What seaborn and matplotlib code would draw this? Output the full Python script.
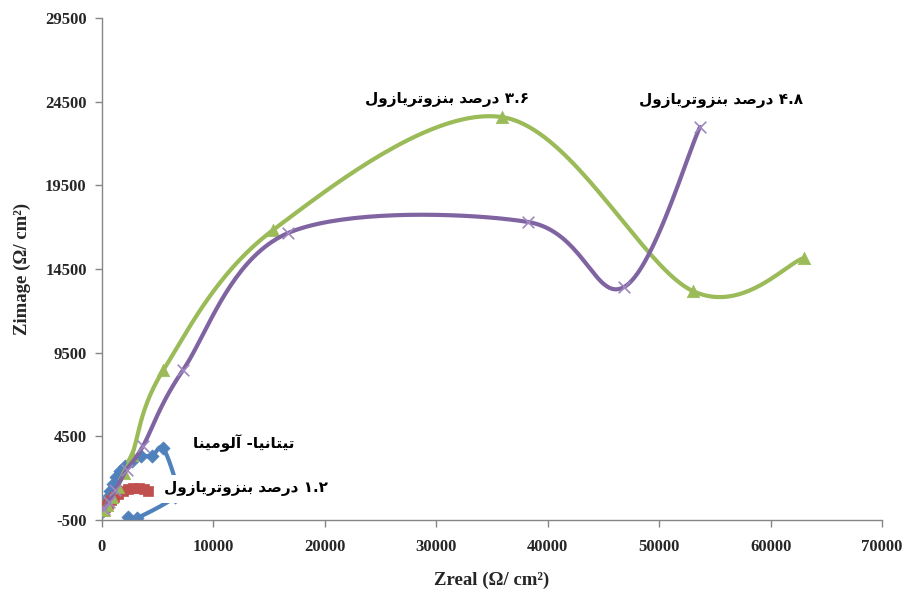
import numpy as np
import pandas as pd
import matplotlib
matplotlib.use("Agg")
import matplotlib.pyplot as plt
import seaborn as sns

# ---------------- data ----------------
ta_x = [90, 270, 450, 720, 990, 1260, 1620, 2060, 2690, 3500, 4490, 5470, 6640, 6550, 3140, 2330]
ta_y = [40, 400, 820, 1230, 1650, 2070, 2430, 2730, 3030, 3330, 3330, 3800, 1710, 880, -380, -320]

b12_x = [100, 300, 550, 800, 1100, 1450, 1850, 2300, 2800, 3300, 3800, 4150]
b12_y = [30, 250, 480, 700, 900, 1080, 1230, 1340, 1400, 1400, 1350, 1250]

b36_x = [150, 450, 900, 1400, 2000, 2700, 5500, 15350, 35900, 53000, 63000]
b36_y = [100, 400, 900, 1500, 2300, 3400, 8450, 16830, 23580, 13190, 15160]

b48_x = [200, 600, 1200, 2200, 3680, 7270, 16700, 38230, 46850, 53670]
b48_y = [150, 600, 1300, 2500, 3920, 8460, 16650, 17310, 13420, 22990]

labels_fa = ["تیتانیا- آلومینا", "۱.۲ درصد بنزوتریازول",
             "۳.۶ درصد بنزوتریازول", "۴.۸ درصد بنزوتریازول"]

x_ticks = [0, 10000, 20000, 30000, 40000, 50000, 60000, 70000]
y_ticks = [-500, 4500, 9500, 14500, 19500, 24500, 29500]

colors = ["#4F81BD", "#C0504D", "#9BBB59", "#8064A2"]

# ---------------- minimal Arabic-script shaping ----------------
FORMS = {
    'ا': ('\uFE8D', '\uFE8E'), 'آ': ('\uFE81', '\uFE82'), 'د': ('\uFEA9', '\uFEAA'),
    'ر': ('\uFEAD', '\uFEAE'), 'ز': ('\uFEAF', '\uFEB0'), 'و': ('\uFEED', '\uFEEE'),
    'ب': ('\uFE8F', '\uFE90', '\uFE91', '\uFE92'), 'ت': ('\uFE95', '\uFE96', '\uFE97', '\uFE98'),
    'ص': ('\uFEB9', '\uFEBA', '\uFEBB', '\uFEBC'), 'ل': ('\uFEDD', '\uFEDE', '\uFEDF', '\uFEE0'),
    'م': ('\uFEE1', '\uFEE2', '\uFEE3', '\uFEE4'), 'ن': ('\uFEE5', '\uFEE6', '\uFEE7', '\uFEE8'),
    'ی': ('\uFBFC', '\uFBFD', '\uFEF3', '\uFEF4'),
}


def shape_word(w):
    out = []
    for i, ch in enumerate(w):
        if ch not in FORMS:
            out.append(ch)
            continue
        prev = w[i - 1] if i > 0 else None
        nxt = w[i + 1] if i + 1 < len(w) else None
        jp = prev is not None and prev in FORMS and len(FORMS[prev]) == 4
        jn = nxt is not None and nxt in FORMS and len(FORMS[ch]) == 4
        f = FORMS[ch]
        if jp and jn:
            out.append(f[3])
        elif jp:
            out.append(f[1])
        elif jn:
            out.append(f[2])
        else:
            out.append(f[0])
    return "".join(reversed(out))


def visual(s):
    toks = s.split(" ")
    vis = []
    for t in toks:
        if any(c in FORMS for c in t):
            lead = ""
            if t.endswith("-"):
                t, lead = t[:-1], "-"
            vis.append(lead + shape_word(t))
        else:
            vis.append(t)
    return " ".join(reversed(vis))


# ---------------- smoothing (Excel-like cardinal spline) ----------------
XSPAN, YSPAN = 70000.0, 30000.0
AXW, AXH = 780.0, 502.0


def smooth(xs, ys, n=40):
    P = np.column_stack([np.asarray(xs, float) / XSPAN * AXW,
                         np.asarray(ys, float) / YSPAN * AXH])
    P = np.vstack([P[0], P, P[-1]])
    segs = []
    t = np.linspace(0, 1, n, endpoint=False)[:, None]
    h00 = 2 * t**3 - 3 * t**2 + 1
    h10 = t**3 - 2 * t**2 + t
    h01 = -2 * t**3 + 3 * t**2
    h11 = t**3 - t**2
    for i in range(1, len(P) - 2):
        p0, p1, p2, p3 = P[i - 1], P[i], P[i + 1], P[i + 2]
        m1 = (p2 - p0) / 2
        m2 = (p3 - p1) / 2
        segs.append(h00 * p1 + h10 * m1 + h01 * p2 + h11 * m2)
    segs.append(P[-2][None, :])
    S = np.vstack(segs)
    return S[:, 0] * XSPAN / AXW, S[:, 1] * YSPAN / AXH


# ---------------- plot ----------------
sns.set_style("white")
plt.rcParams['font.family'] = ['Liberation Serif', 'DejaVu Sans']

fig = plt.figure(figsize=(9.06, 5.92), dpi=100)
ax = fig.add_axes([102 / 906, 1 - 520 / 592, 780 / 906, 502 / 592])

series = [
    (ta_x, ta_y, colors[0], "D", 45, 2),
    (b12_x, b12_y, colors[1], "s", 60, 3),
    (b36_x, b36_y, colors[2], "^", 80, 4),
    (b48_x, b48_y, colors[3], "x", 70, 5),
]
for xs, ys, c, m, s, z in series:
    sx, sy = smooth(xs, ys)
    sns.lineplot(x=sx, y=sy, sort=False, estimator=None, color=c, lw=3,
                 ax=ax, zorder=z)
    if m == "x":
        sns.scatterplot(x=xs, y=ys, marker="x", color="#9F88C0", s=s,
                        linewidth=1.2, ax=ax, zorder=z + 0.5)
    else:
        sns.scatterplot(x=xs, y=ys, marker=m, color=c, s=s, edgecolor=c,
                        linewidth=0.5, ax=ax, zorder=z + 0.5)

ax.set_xlim(0, 70000)
ax.set_ylim(-500, 29500)
ax.set_xticks(x_ticks)
ax.set_yticks(y_ticks)
ax.set_xticklabels([str(v) for v in x_ticks], fontweight="bold", fontsize=12)
ax.set_yticklabels([str(v) for v in y_ticks], fontweight="bold", fontsize=12)

for sp in ["top", "right"]:
    ax.spines[sp].set_visible(False)
for sp in ["left", "bottom"]:
    ax.spines[sp].set_color("#868686")
    ax.spines[sp].set_linewidth(1.0)
ax.tick_params(axis="both", which="major", direction="out", length=5,
               width=1, color="#868686", left=True, bottom=True)
ax.tick_params(axis="y", pad=6)
ax.tick_params(axis="x", pad=9)

ax.set_xlabel("Zreal (Ω/ cm²)", fontweight="bold", fontsize=13.5, labelpad=12)
ax.set_ylabel("Zimage (Ω/ cm²)", fontweight="bold", fontsize=13.5, labelpad=10)

lab_pos = [(244, 443), (246, 489), (447, 100), (721, 101)]
for i, (txt, (px, py)) in enumerate(zip(labels_fa, lab_pos)):
    kw = {}
    if i == 1:
        kw["bbox"] = dict(facecolor="white", edgecolor="none", pad=4.5)
    fig.text(px / 906, 1 - py / 592, visual(txt), ha="center", va="center",
             fontsize=11, fontweight="bold", family=["DejaVu Sans"],
             color="black", zorder=10, **kw)

fig.savefig("out.png", dpi=100)
